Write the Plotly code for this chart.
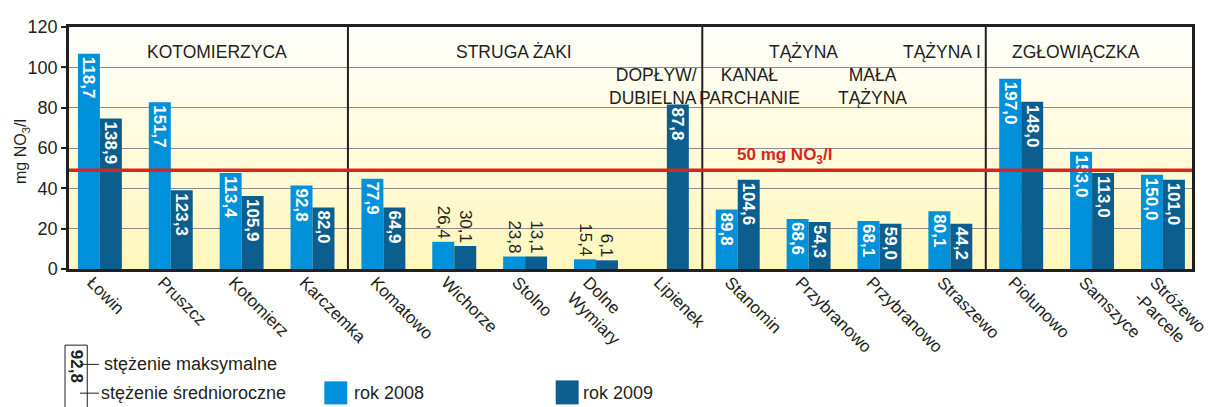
import plotly.graph_objects as go

# ---------------- data ----------------
stations = ["Łowin", "Pruszcz", "Kotomierz", "Karczemka", "Komatowo", "Wichorze",
            "Stolno", "Dolne<br>Wymiary", "Lipienek", "Stanomin", "Przybranowo",
            "Przybranowo", "Straszewo", "Piołunowo", "Samszyce", "Stróżewo<br>-Parcele"]
avg_2008 = [106.7, 82.7, 47.6, 41.4, 44.8, 13.5, 6.2, 4.8, None, 29.5, 24.8, 23.8, 28.6, 94.3, 58.1, 46.7]
avg_2009 = [74.6, 39.0, 36.2, 30.5, 30.5, 11.4, 6.2, 4.3, 81.6, 44.3, 23.3, 22.4, 22.4, 82.9, 47.6, 44.3]
max_2008 = [118.7, 151.7, 113.4, 92.8, 77.9, 26.4, 23.8, 15.4, None, 89.8, 68.6, 68.1, 80.1, 197.0, 153.0, 150.0]
max_2009 = [138.9, 123.3, 105.9, 82.0, 64.9, 30.1, 13.1, 6.1, 87.8, 104.6, 54.3, 59.0, 44.2, 148.0, 113.0, 101.0]
rivers = ["KOTOMIERZYCA", "STRUGA ŻAKI", "TĄŻYNA", "TĄŻYNA I", "ZGŁOWIĄCZKA"]
tributaries = ["DOPŁYW/<br>DUBIELNA", "KANAŁ<br>PARCHANIE", "MAŁA<br>TĄŻYNA"]
limit_value = 49
limit_label = "50 mg NO<sub>3</sub>/l"
y_ticks = [0, 20, 40, 60, 80, 100, 120]

# ---------------- style ----------------
FONT = "Liberation Sans, Arial, sans-serif"
TXT = "#231F20"
C08 = "#0091DA"
C09 = "#0C5E8F"
PAGE_W, PAGE_H = 1219, 407
OX, OY = 8, 8            # default page body margin
L, R, T, B = 69, 1195, 17, 269   # plot area in page pixels
W, H = PAGE_W - OX, PAGE_H - OY


def px(x):
    return (x - L) / (R - L)


def py(y):
    return (B - y) / (B - T)


def fmt(v):
    return "" if v is None else f"{v:.1f}".replace(".", ",")


idx = list(range(len(stations)))
small = {5, 6, 7}
pos = ["outside" if i in small else "inside" for i in idx]

fig = go.Figure()
for vals, mx, col in [(avg_2008, max_2008, C08), (avg_2009, max_2009, C09)]:
    fig.add_trace(go.Bar(
        x=idx, y=vals, text=[fmt(v) for v in mx], marker_color=col,
        marker_line_width=0, textangle=90, textposition=pos,
        insidetextanchor="end",
        insidetextfont=dict(family=FONT, size=17, color="white", weight="bold"),
        outsidetextfont=dict(family=FONT, size=17, color=TXT),
        cliponaxis=False, showlegend=False, hoverinfo="skip"))

shapes = []
# background gradient
n = 48
top_c = (255, 255, 252)
bot_c = (255, 247, 188)
for k in range(n):
    f = (k + 0.5) / n
    c = tuple(round(top_c[j] + (bot_c[j] - top_c[j]) * f) for j in range(3))
    shapes.append(dict(type="rect", xref="x domain", yref="y domain",
                       x0=0, x1=1, y0=1 - (k + 1) / n, y1=1 - k / n + 0.002,
                       fillcolor=f"rgb{c}", line_width=0, layer="below"))
# section separators
for xs, y1 in [(3.5, 1), (8.5, 1), (12.5, 1.01)]:
    shapes.append(dict(type="line", xref="x", yref="y domain", x0=xs, x1=xs,
                       y0=0, y1=y1, line=dict(color=TXT, width=2)))
# limit line
shapes.append(dict(type="line", xref="x domain", yref="y", x0=0, x1=1,
                   y0=limit_value, y1=limit_value, line=dict(color="#D7261E", width=3.5)))

# legend shapes
shapes.append(dict(type="rect", xref="paper", yref="paper", x0=px(65), x1=px(87.3),
                   y0=py(420), y1=py(348.3), line=dict(color=TXT, width=1)))
for yl in [368.3, 398.3]:
    shapes.append(dict(type="line", xref="paper", yref="paper", x0=px(80), x1=px(99),
                       y0=py(yl), y1=py(yl), line=dict(color=TXT, width=1)))
shapes.append(dict(type="rect", xref="paper", yref="paper", x0=px(325), x1=px(348),
                   y0=py(410), y1=py(386), fillcolor=C08, line_width=0))
shapes.append(dict(type="rect", xref="paper", yref="paper", x0=px(557), x1=px(580),
                   y0=py(410), y1=py(385), fillcolor=C09, line_width=0))

ann = []
# river names
river_pos = [(1.65, "center"), (5.84, "center"), (9.93, "center"), (12.46, "right"), (13.78, "center")]
for name, (xr, anc) in zip(rivers, river_pos):
    ann.append(dict(x=xr, y=107.6, xref="x", yref="y", text=name, showarrow=False,
                    xanchor=anc, yanchor="middle", font=dict(family=FONT, size=17.5, color=TXT)))
trib_pos = [(8.45, "right", "right"), (9.17, "center", "center"), (10.9, "center", "center")]
for name, (xr, anc, al) in zip(tributaries, trib_pos):
    ann.append(dict(x=xr, y=90.5, xref="x", yref="y", text=name, showarrow=False,
                    xanchor=anc, yanchor="middle", align=al,
                    font=dict(family=FONT, size=17.5, color=TXT)))
# limit label
ann.append(dict(x=8.96, y=limit_value, xref="x", yref="y", text=limit_label, showarrow=False,
                xanchor="left", yanchor="bottom", yshift=1,
                font=dict(family=FONT, size=17, color="#D7261E", weight="bold")))
# y title
ann.append(dict(x=px(22), y=py(147), xref="paper", yref="paper", text="mg NO<sub>3</sub>/l",
                showarrow=False, textangle=-90, xanchor="center", yanchor="middle",
                font=dict(family=FONT, size=16, color=TXT)))
# legend texts
ann.append(dict(x=px(76.2), y=py(370), xref="paper", yref="paper", text="92,8", showarrow=False,
                textangle=90, xanchor="center", yanchor="middle",
                font=dict(family=FONT, size=17, color=TXT, weight="bold")))
for txt, xl, yl in [("stężenie maksymalne", 102, 368), ("stężenie średnioroczne", 99, 398),
                    ("rok 2008", 353, 398), ("rok 2009", 582, 398)]:
    ann.append(dict(x=px(xl), y=py(yl), xref="paper", yref="paper", text=txt, showarrow=False,
                    xanchor="left", yanchor="middle",
                    font=dict(family=FONT, size=18, color=TXT)))

fig.update_layout(
    width=W, height=H,
    margin=dict(l=L - OX, r=PAGE_W - R, t=T - OY, b=PAGE_H - B, pad=0),
    paper_bgcolor="white", plot_bgcolor="rgba(0,0,0,0)",
    barmode="group", bargap=0.38, bargroupgap=0,
    font=dict(family=FONT, size=17, color=TXT),
    uniformtext=dict(minsize=17, mode="show"),
    shapes=shapes, annotations=ann,
    xaxis=dict(range=[-0.436, 15.41], tickmode="array", tickvals=idx, ticktext=stations,
               tickangle=45, ticks="", showgrid=False, zeroline=False,
               ticklabelshift=-8, ticklabelstandoff=-6,
               showline=True, mirror=True, linecolor=TXT, linewidth=2.5,
               tickfont=dict(family=FONT, size=17, color=TXT)),
    yaxis=dict(range=[0, 120], tickmode="array", tickvals=y_ticks,
               ticks="outside", ticklen=5, tickcolor=TXT, tickwidth=1.5,
               showgrid=True, gridcolor="#8C8C8C", gridwidth=1, zeroline=False,
               showline=True, mirror=True, linecolor=TXT, linewidth=2.5,
               tickfont=dict(family=FONT, size=18, color=TXT)),
)

fig.write_html("out.html")
